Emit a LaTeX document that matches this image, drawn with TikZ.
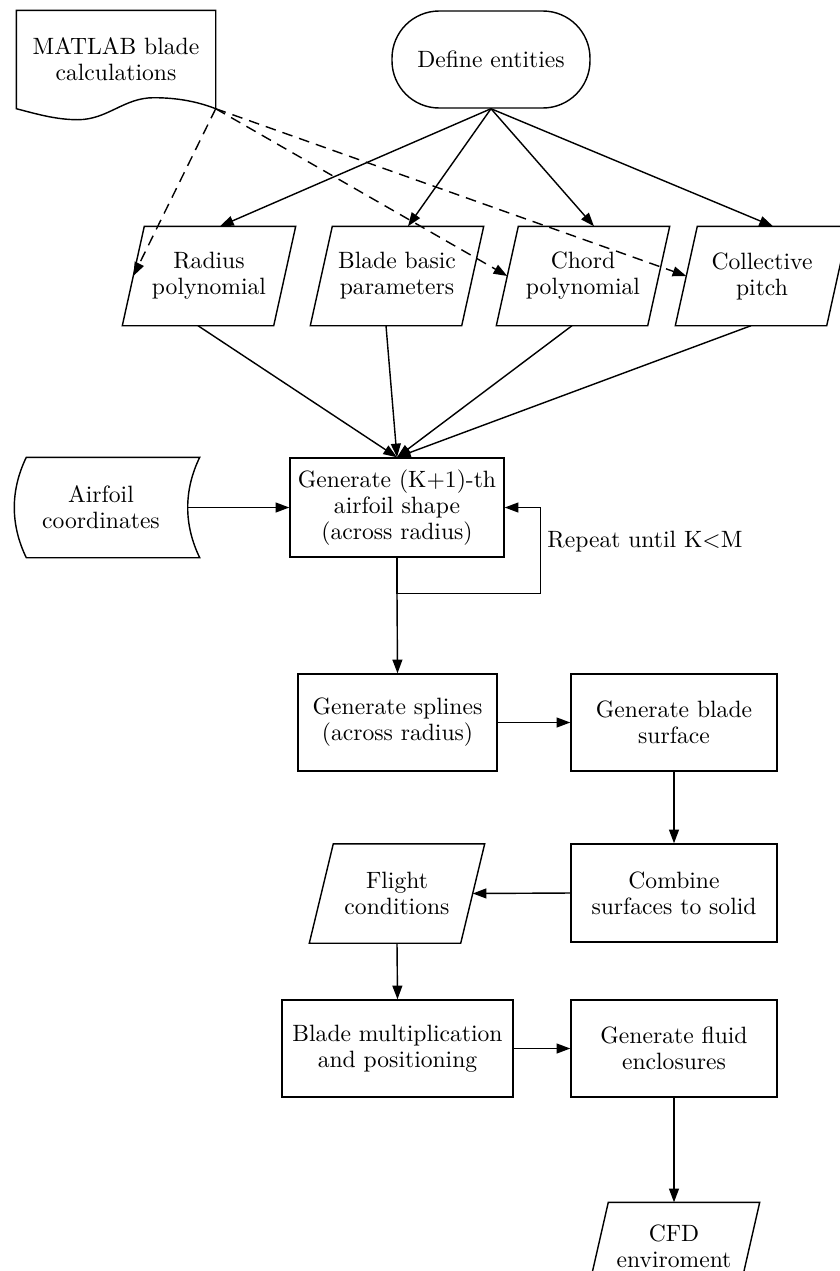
\documentclass[tikz,border=0pt]{standalone}
\usetikzlibrary{arrows.meta,calc}
\newcommand\pxs{0.4237}
\newcommand\drawpara[2]{\draw ($(#1.north west)+(#2,0)$) -- ($(#1.north east)+(#2,0)$) -- ($(#1.south east)-(#2,0)$) -- ($(#1.south west)-(#2,0)$) -- cycle;}
\begin{document}
\begin{tikzpicture}[x=0.4237pt,y=-0.4237pt,line width=0.6pt,
  font=\fontsize{10}{11}\selectfont,
  arr/.style={-{Triangle[length=5.8pt,width=4.2pt]}},
  dsh/.style={dash pattern=on 4.5pt off 3pt},
  rbox/.style 2 args={draw,rectangle,minimum width=#1*\pxs pt,minimum height=#2*\pxs pt,inner sep=0pt,align=center},
  hbox/.style 2 args={rectangle,minimum width=#1*\pxs pt,minimum height=#2*\pxs pt,inner sep=0pt,align=center},
  pbox/.style={hbox={150}{98}}]
\useasboundingbox (0,0) rectangle (840,1271);

% nodes
\node[hbox={198}{97}] (matlab) at (116,59.5) {MATLAB blade\\calculations};
\coordinate (mse) at (matlab.south east);
\draw (matlab.south west) -- (matlab.north west) -- (matlab.north east) -- (mse)
  .. controls ($(mse)+(-18,-7)$) and ($(mse)+(-38,-11)$) .. ($(mse)+(-62,-11)$)
  .. controls ($(mse)+(-92,-11)$) and ($(mse)+(-108,11)$) .. ($(mse)+(-138,11)$)
  .. controls ($(mse)+(-160,11)$) and ($(mse)+(-180,5)$) .. (matlab.south west) -- cycle;

\node[rbox={198}{97},rounded corners=20pt] (define) at (491,59.5) {Define entities};

\node[pbox] (radius) at (209,276) {Radius\\polynomial};
\node[pbox] (basic) at (397,276) {Blade basic\\parameters};
\node[pbox] (chord) at (583,276) {Chord\\polynomial};
\node[pbox] (pitch) at (762,276) {Collective\\pitch};
\drawpara{radius}{11}
\drawpara{basic}{11}
\drawpara{chord}{11}
\drawpara{pitch}{11}

\node[rbox={214}{99}] (gen) at (397,507.5) {Generate (K+1)-th\\airfoil shape\\(across radius)};

\node[hbox={172}{99}] (airfoil) at (101,507.5) {Airfoil\\coordinates};
\draw ($(airfoil.north west)+(12,0)$) -- ($(airfoil.north east)+(12,0)$)
  .. controls ($(airfoil.north east)+(-4,33)$) and ($(airfoil.south east)+(-4,-33)$) .. ($(airfoil.south east)+(12,0)$)
  -- ($(airfoil.south west)+(12,0)$)
  .. controls ($(airfoil.south west)+(-4,-33)$) and ($(airfoil.north west)+(-4,33)$) .. ($(airfoil.north west)+(12,0)$) -- cycle;

\node[rbox={199}{97}] (splines) at (397.5,722.5) {Generate splines\\(across radius)};
\node[rbox={206}{97}] (surface) at (674,722.5) {Generate blade\\surface};
\node[rbox={206}{98}] (combine) at (674,893) {Combine\\surfaces to solid};
\node[pbox] (flight) at (397,893.5) {Flight\\conditions};
\drawpara{flight}{12}
\node[rbox={231}{97}] (mult) at (397.5,1048.5) {Blade multiplication\\and positioning};
\node[rbox={206}{97}] (fluid) at (674,1048.5) {Generate fluid\\enclosures};
\node[hbox={150}{86}] (cfd) at (674,1246) {CFD\\enviroment};
\drawpara{cfd}{10}

% connectors
\draw[arr] (define.south) -- ($(radius.north)+(11,0)$);
\draw[arr] (define.south) -- ($(basic.north)+(11,0)$);
\draw[arr] (define.south) -- ($(chord.north)+(11,0)$);
\draw[arr] (define.south) -- ($(pitch.north)+(11,0)$);

\draw[arr,dsh] (mse) -- (radius.west);
\draw[arr,dsh] (mse) -- (chord.west);
\draw[arr,dsh] (mse) -- (pitch.west);

\draw[arr] ($(radius.south)-(11,0)$) -- (gen.north);
\draw[arr] ($(basic.south)-(11,0)$) -- (gen.north);
\draw[arr] ($(chord.south)-(11,0)$) -- (gen.north);
\draw[arr] ($(pitch.south)-(11,0)$) -- (gen.north);

\draw[arr] (airfoil.east) -- (gen.west);

\coordinate (lp1) at ($(gen.south)+(0,36)$);
\coordinate (lp2) at ($(gen.east)+(36,0)$);
\draw (gen.south) -- (lp1);
\draw[arr] (lp1) -| (lp2) -- (gen.east);
\node[anchor=west,inner sep=0pt] (rep) at ($(lp2)+(6,34)$) {Repeat until K$<$M};
\draw[arr] (lp1) -- (splines.north);

\draw[arr] (splines.east) -- (surface.west);
\draw[arr] (surface.south) -- (combine.north);
\draw[arr] (combine.west) -- (flight.east);
\draw[arr] (flight.south) -- (mult.north);
\draw[arr] (mult.east) -- (fluid.west);
\draw[arr] (fluid.south) -- (cfd.north);
\end{tikzpicture}
\end{document}
